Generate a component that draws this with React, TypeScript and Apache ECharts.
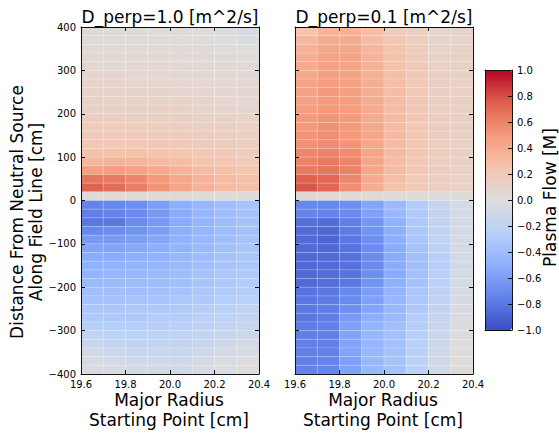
import React, { useEffect, useRef } from "react";
import * as echarts from "echarts";

// Bin centres (starting major radius in cm, distance along field line in cm)
const radiusCenters = [19.65, 19.75, 19.85, 19.95, 20.05, 20.15, 20.25, 20.35];
const distanceCenters = [
  390, 370, 350, 330, 310, 290, 270, 250, 230, 210,
  190, 170, 150, 130, 110, 90, 70, 50, 30, 10,
  -10, -30, -50, -70, -90, -110, -130, -150, -170, -190,
  -210, -230, -250, -270, -290, -310, -330, -350, -370, -390,
];
const radiusHalfWidth = 0.05;
const distanceHalfHeight = 10;

// D_perp = 1.0 m^2/s : plasma flow (Mach) per radius column, rows top (390) to bottom (-390)
const flowD1_1965 = [0.03, 0.03, 0.04, 0.05, 0.06, 0.08, 0.09, 0.1, 0.11, 0.12, 0.15, 0.17, 0.19, 0.22, 0.26, 0.33, 0.46, 0.66, 0.73, 0.04,
  -0.74, -0.76, -0.8, -0.72, -0.62, -0.56, -0.52, -0.48, -0.46, -0.42, -0.38, -0.36, -0.33, -0.3, -0.26, -0.2, -0.14, -0.08, -0.05, -0.03];
const flowD1_1975 = [0.03, 0.03, 0.04, 0.05, 0.06, 0.08, 0.09, 0.1, 0.11, 0.12, 0.15, 0.17, 0.19, 0.22, 0.27, 0.35, 0.48, 0.64, 0.69, 0.04,
  -0.72, -0.74, -0.8, -0.7, -0.62, -0.56, -0.52, -0.48, -0.45, -0.42, -0.38, -0.36, -0.33, -0.3, -0.27, -0.22, -0.17, -0.12, -0.08, -0.05];
const flowD1_1985 = [0.03, 0.03, 0.04, 0.05, 0.06, 0.07, 0.08, 0.1, 0.11, 0.12, 0.14, 0.16, 0.19, 0.22, 0.27, 0.35, 0.45, 0.58, 0.62, 0.04,
  -0.68, -0.7, -0.7, -0.66, -0.6, -0.54, -0.5, -0.47, -0.44, -0.41, -0.38, -0.35, -0.32, -0.3, -0.27, -0.23, -0.19, -0.14, -0.1, -0.07];
const flowD1_1995 = [0.02, 0.03, 0.04, 0.05, 0.06, 0.07, 0.08, 0.09, 0.1, 0.12, 0.14, 0.16, 0.18, 0.21, 0.25, 0.31, 0.4, 0.5, 0.53, 0.03,
  -0.6, -0.62, -0.62, -0.6, -0.55, -0.5, -0.48, -0.45, -0.42, -0.4, -0.37, -0.34, -0.31, -0.28, -0.25, -0.22, -0.18, -0.14, -0.1, -0.08];
const flowD1_2005 = [0.02, 0.02, 0.03, 0.04, 0.05, 0.06, 0.07, 0.08, 0.1, 0.11, 0.13, 0.15, 0.17, 0.2, 0.24, 0.29, 0.35, 0.42, 0.43, 0.03,
  -0.5, -0.52, -0.52, -0.5, -0.48, -0.46, -0.44, -0.42, -0.4, -0.38, -0.35, -0.32, -0.3, -0.27, -0.24, -0.2, -0.17, -0.13, -0.1, -0.08];
const flowD1_2015 = [0.01, 0.02, 0.03, 0.04, 0.05, 0.06, 0.07, 0.08, 0.09, 0.1, 0.12, 0.14, 0.16, 0.18, 0.21, 0.25, 0.3, 0.35, 0.36, 0.03,
  -0.44, -0.45, -0.46, -0.45, -0.44, -0.42, -0.4, -0.38, -0.36, -0.34, -0.32, -0.3, -0.27, -0.24, -0.21, -0.17, -0.14, -0.1, -0.07, -0.05];
const flowD1_2025 = [-0.02, 0.0, 0.02, 0.03, 0.04, 0.05, 0.06, 0.07, 0.08, 0.09, 0.11, 0.13, 0.15, 0.17, 0.2, 0.22, 0.27, 0.3, 0.3, 0.02,
  -0.4, -0.4, -0.4, -0.4, -0.39, -0.38, -0.36, -0.34, -0.32, -0.31, -0.29, -0.27, -0.24, -0.21, -0.18, -0.14, -0.1, -0.07, -0.04, -0.02];
const flowD1_2035 = [-0.05, -0.03, 0.0, 0.02, 0.03, 0.04, 0.05, 0.06, 0.07, 0.08, 0.1, 0.12, 0.14, 0.16, 0.18, 0.2, 0.24, 0.27, 0.28, 0.02,
  -0.35, -0.36, -0.36, -0.36, -0.35, -0.34, -0.33, -0.32, -0.3, -0.28, -0.26, -0.24, -0.21, -0.18, -0.15, -0.11, -0.07, -0.04, -0.02, 0.01];

// D_perp = 0.1 m^2/s
const flowD01_1965 = [0.25, 0.32, 0.36, 0.38, 0.4, 0.42, 0.44, 0.45, 0.46, 0.48, 0.5, 0.5, 0.52, 0.54, 0.58, 0.6, 0.64, 0.74, 0.78, 0.05,
  -0.72, -0.74, -0.84, -0.86, -0.86, -0.86, -0.87, -0.87, -0.87, -0.86, -0.82, -0.8, -0.8, -0.8, -0.78, -0.77, -0.76, -0.76, -0.76, -0.75];
const flowD01_1975 = [0.35, 0.4, 0.42, 0.44, 0.45, 0.46, 0.48, 0.5, 0.5, 0.5, 0.52, 0.54, 0.55, 0.56, 0.6, 0.64, 0.66, 0.72, 0.72, 0.04,
  -0.72, -0.74, -0.85, -0.87, -0.88, -0.87, -0.86, -0.86, -0.85, -0.84, -0.8, -0.78, -0.77, -0.77, -0.76, -0.76, -0.76, -0.75, -0.74, -0.74];
const flowD01_1985 = [0.36, 0.4, 0.42, 0.44, 0.44, 0.45, 0.46, 0.47, 0.48, 0.48, 0.5, 0.5, 0.5, 0.52, 0.56, 0.58, 0.6, 0.58, 0.55, 0.04,
  -0.68, -0.7, -0.76, -0.78, -0.8, -0.82, -0.83, -0.83, -0.82, -0.8, -0.72, -0.7, -0.68, -0.62, -0.58, -0.57, -0.57, -0.57, -0.58, -0.58];
const flowD01_1995 = [0.28, 0.3, 0.33, 0.35, 0.36, 0.37, 0.38, 0.38, 0.39, 0.4, 0.4, 0.41, 0.42, 0.42, 0.43, 0.43, 0.42, 0.4, 0.38, 0.03,
  -0.56, -0.58, -0.64, -0.66, -0.68, -0.7, -0.7, -0.7, -0.68, -0.66, -0.6, -0.58, -0.56, -0.5, -0.46, -0.45, -0.45, -0.44, -0.44, -0.44];
const flowD01_2005 = [0.18, 0.22, 0.25, 0.26, 0.27, 0.28, 0.28, 0.29, 0.3, 0.3, 0.3, 0.3, 0.31, 0.31, 0.31, 0.3, 0.3, 0.28, 0.26, 0.03,
  -0.42, -0.44, -0.48, -0.5, -0.5, -0.52, -0.52, -0.52, -0.52, -0.5, -0.46, -0.45, -0.44, -0.42, -0.38, -0.37, -0.37, -0.36, -0.36, -0.36];
const flowD01_2015 = [0.14, 0.16, 0.17, 0.18, 0.19, 0.2, 0.2, 0.2, 0.21, 0.21, 0.21, 0.22, 0.22, 0.22, 0.22, 0.21, 0.21, 0.2, 0.2, 0.02,
  -0.28, -0.3, -0.3, -0.32, -0.33, -0.36, -0.38, -0.38, -0.37, -0.36, -0.33, -0.32, -0.31, -0.28, -0.26, -0.25, -0.24, -0.24, -0.23, -0.23];
const flowD01_2025 = [0.08, 0.09, 0.1, 0.11, 0.12, 0.13, 0.13, 0.14, 0.14, 0.14, 0.15, 0.15, 0.15, 0.16, 0.16, 0.16, 0.15, 0.15, 0.15, 0.02,
  -0.16, -0.17, -0.18, -0.19, -0.2, -0.23, -0.25, -0.25, -0.24, -0.23, -0.21, -0.2, -0.19, -0.16, -0.13, -0.12, -0.11, -0.1, -0.1, -0.09];
const flowD01_2035 = [0.1, 0.1, 0.11, 0.11, 0.12, 0.12, 0.12, 0.12, 0.13, 0.13, 0.13, 0.13, 0.13, 0.13, 0.13, 0.13, 0.12, 0.12, 0.12, 0.02,
  -0.06, -0.07, -0.07, -0.07, -0.07, -0.07, -0.07, -0.07, -0.06, -0.06, -0.05, -0.05, -0.04, -0.03, -0.02, -0.01, 0.0, 0.01, 0.02, 0.03];

const flowD1 = [flowD1_1965, flowD1_1975, flowD1_1985, flowD1_1995, flowD1_2005, flowD1_2015, flowD1_2025, flowD1_2035];
const flowD01 = [flowD01_1965, flowD01_1975, flowD01_1985, flowD01_1995, flowD01_2005, flowD01_2015, flowD01_2025, flowD01_2035];

const titles = ["D_perp=1.0 [m^2/s]", "D_perp=0.1 [m^2/s]"];
const xLabel = "Major Radius\nStarting Point [cm]";
const yLabel = "Distance From Neutral Source\nAlong Field Line [cm]";
const cbLabel = "Plasma Flow [M]";

const coolwarm = ["#3b4cc0", "#6282ea", "#8db0fe", "#b8d0f9", "#dddddd", "#f5c4ad", "#f49a7b", "#de604d", "#b40426"];

const FONT = "DejaVu Sans";

function buildCells(cols: number[][]) {
  const out: number[][] = [];
  cols.forEach((col, i) => {
    const xc = radiusCenters[i];
    col.forEach((v, j) => {
      const yc = distanceCenters[j];
      out.push([xc - radiusHalfWidth, xc + radiusHalfWidth, yc - distanceHalfHeight, yc + distanceHalfHeight, v]);
    });
  });
  return out;
}

const fmtSigned = (v: number, d: number) => {
  if (Math.abs(v) < 1e-9) return (0).toFixed(d);
  return (v < 0 ? "\u2212" : "") + Math.abs(v).toFixed(d);
};

const renderCell = (params: any, api: any) => {
  const p0 = api.coord([api.value(0), api.value(3)]);
  const p1 = api.coord([api.value(1), api.value(2)]);
  return {
    type: "rect",
    shape: { x: p0[0], y: p0[1], width: p1[0] - p0[0], height: p1[1] - p0[1] },
    style: { fill: api.visual("color"), stroke: "rgba(255,255,255,0.22)", lineWidth: 0.7 },
  };
};

const AXIS_COLOR = "#111";

function frameX(gridIndex: number, position: string, showLabels: boolean, min: number, max: number, interval: number, ticks = true) {
  return {
    type: "value",
    gridIndex,
    position,
    min,
    max,
    interval,
    z: 10,
    axisLine: { show: true, onZero: false, lineStyle: { color: AXIS_COLOR, width: 1 } },
    axisTick: { show: ticks, inside: true, length: 4, lineStyle: { color: AXIS_COLOR } },
    axisLabel: {
      show: showLabels,
      margin: 5,
      fontSize: 10,
      color: "#000",
      fontFamily: FONT,
      formatter: (v: number) => v.toFixed(1),
    },
    splitLine: { show: false },
  };
}

function frameY(gridIndex: number, position: string, showLabels: boolean, min: number, max: number, interval: number, digits: number, ticks = true) {
  return {
    type: "value",
    gridIndex,
    position,
    min,
    max,
    interval,
    z: 10,
    axisLine: { show: true, onZero: false, lineStyle: { color: AXIS_COLOR, width: 1 } },
    axisTick: { show: ticks, inside: true, length: 4, lineStyle: { color: AXIS_COLOR } },
    axisLabel: {
      show: showLabels,
      margin: 5,
      fontSize: 10,
      color: "#000",
      fontFamily: FONT,
      formatter: (v: number) => fmtSigned(v, digits),
    },
    splitLine: { show: false },
  };
}

export default function App() {
  const ref = useRef<HTMLDivElement>(null);
  useEffect(() => {
    if (!ref.current) return;
    const chart = echarts.init(ref.current, undefined, { renderer: "svg" });
    const option: any = {
      animation: false,
      backgroundColor: "#ffffff",
      textStyle: { fontFamily: FONT },
      grid: [
        { left: 81, top: 27, width: 178, height: 347 },
        { left: 295, top: 27, width: 178, height: 347 },
        { left: 485, top: 70, width: 27, height: 260 },
      ],
      xAxis: [
        frameX(0, "bottom", true, 19.6, 20.4, 0.2),
        frameX(0, "top", false, 19.6, 20.4, 0.2),
        frameX(1, "bottom", true, 19.6, 20.4, 0.2),
        frameX(1, "top", false, 19.6, 20.4, 0.2),
        frameX(2, "bottom", false, 0, 1, 1, false),
        frameX(2, "top", false, 0, 1, 1, false),
      ],
      yAxis: [
        frameY(0, "left", true, -400, 400, 100, 0),
        frameY(0, "right", false, -400, 400, 100, 0),
        frameY(1, "left", false, -400, 400, 100, 0),
        frameY(1, "right", false, -400, 400, 100, 0),
        frameY(2, "right", true, -1, 1, 0.2, 1),
        frameY(2, "left", false, -1, 1, 0.2, 1, false),
      ],
      visualMap: {
        type: "continuous",
        min: -1,
        max: 1,
        dimension: 4,
        seriesIndex: [0, 1],
        calculable: false,
        realtime: false,
        hoverLink: false,
        left: 485,
        top: 70,
        padding: 0,
        itemWidth: 27,
        itemHeight: 260,
        inRange: { color: coolwarm },
      },
      series: [
        {
          type: "custom",
          xAxisIndex: 0,
          yAxisIndex: 0,
          clip: true,
          renderItem: renderCell,
          encode: { x: [0, 1], y: [2, 3] },
          data: buildCells(flowD1),
        },
        {
          type: "custom",
          xAxisIndex: 2,
          yAxisIndex: 2,
          clip: true,
          renderItem: renderCell,
          encode: { x: [0, 1], y: [2, 3] },
          data: buildCells(flowD01),
        },
      ],
      graphic: [
        {
          type: "text",
          x: 170,
          y: 17,
          style: { text: titles[0], font: `17px "${FONT}"`, fill: "#000", textAlign: "center", textVerticalAlign: "middle" },
        },
        {
          type: "text",
          x: 384,
          y: 17,
          style: { text: titles[1], font: `17px "${FONT}"`, fill: "#000", textAlign: "center", textVerticalAlign: "middle" },
        },
        {
          type: "text",
          x: 169,
          y: 410,
          style: { text: xLabel, font: `17px "${FONT}"`, fill: "#000", textAlign: "center", textVerticalAlign: "middle", lineHeight: 19.5 },
        },
        {
          type: "text",
          x: 383,
          y: 410,
          style: { text: xLabel, font: `17px "${FONT}"`, fill: "#000", textAlign: "center", textVerticalAlign: "middle", lineHeight: 19.5 },
        },
        {
          type: "text",
          x: 26.5,
          y: 212,
          rotation: Math.PI / 2,
          style: { text: yLabel, font: `17px "${FONT}"`, fill: "#000", textAlign: "center", textVerticalAlign: "middle", lineHeight: 19.5 },
        },
        {
          type: "text",
          x: 550,
          y: 197.5,
          rotation: Math.PI / 2,
          style: { text: cbLabel, font: `17px "${FONT}"`, fill: "#000", textAlign: "center", textVerticalAlign: "middle" },
        },
      ],
    };
    chart.setOption(option);
    return () => chart.dispose();
  }, []);
  return <div ref={ref} style={{ position: "fixed", left: 0, top: 0, width: 559, height: 433 }} />;
}
